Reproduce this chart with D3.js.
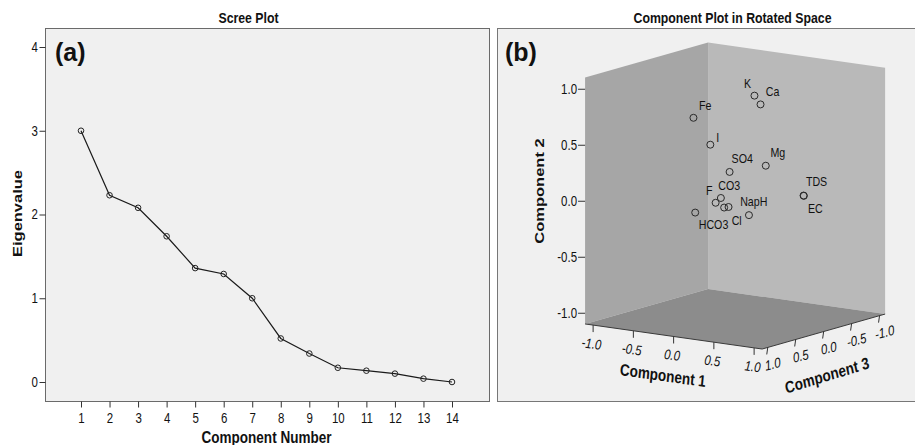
<!DOCTYPE html>
<html>
<head>
<meta charset="utf-8">
<script src="https://cdn.jsdelivr.net/npm/d3@7"></script>
<style>
  body { margin: 0; background: #fff; }
  svg { display: block; font-family: "Liberation Sans", Arial, sans-serif; }
  text { fill: #111; }
</style>
</head>
<body>
<div id="chart"></div>
<script>
// scree plot values
const components = [1, 2, 3, 4, 5, 6, 7, 8, 9, 10, 11, 12, 13, 14];
const eigenvalues = [3.00, 2.23, 2.08, 1.74, 1.36, 1.29, 1.00, 0.52, 0.34, 0.17, 0.135, 0.10, 0.04, 0.00];
const eigenTicks = [0, 1, 2, 3, 4];

// rotated component loadings (3d)
const variables = ["K", "Ca", "Fe", "I", "SO4", "Mg", "TDS", "EC", "CO3", "F", "Na", "pH", "Cl", "HCO3"];
const comp1 = [0.31, 0.42, -0.17, -0.03, 0.14, 0.52, 0.92, 0.93, 0.24, 0.14, 0.35, 0.37, 0.45, 0.06];
const comp2 = [0.94, 0.88, 0.75, 0.51, 0.27, 0.35, 0.11, 0.11, 0.09, 0.03, 0.03, 0.03, -0.07, -0.03];
const comp3 = [0.10, 0.15, 0.50, 0.40, 0.30, 0.20, 0.10, 0.11, 0.60, 0.55, 0.70, 0.65, 0.40, 0.80];
const loadTicks = [-1, -0.5, 0, 0.5, 1];

// label placement next to each marker (layout only)
const labelOffset = {
  K: [-7, -12, "middle"], Ca: [12, -12.7, "middle"], Fe: [11.7, -12.6, "middle"],
  I: [7.3, -7, "middle"], SO4: [12.6, -13.7, "middle"], Mg: [12, -13.4, "middle"],
  TDS: [13, -14.3, "middle"], EC: [11.5, 12.5, "middle"], CO3: [8.3, -12.7, "middle"],
  F: [-6.4, -12.3, "middle"], Na: [16, -5.6, "start"], pH: [25.2, -5, "start"],
  Cl: [-12.3, 5.3, "middle"], HCO3: [18.3, 12, "middle"]
};

const W = 915, H = 445;
const K = 0.82; // horizontal squeeze of the lettering
const fmt = d => d.toFixed(1);

const svg = d3.select("#chart").append("svg").attr("width", W).attr("height", H);

function rot(theta) {
  return Math.atan(K * Math.tan(theta * Math.PI / 180)) * 180 / Math.PI;
}

function txt(g, x, y, s, o = {}) {
  const k = o.k === undefined ? K : o.k;
  return g.append("text")
    .attr("transform", `translate(${x},${y}) scale(${k},1) rotate(${o.rot || 0})`)
    .attr("text-anchor", o.anchor || "middle")
    .attr("dominant-baseline", o.base || "central")
    .style("font-size", (o.size || 13) + "px")
    .style("font-weight", o.bold ? "bold" : "normal")
    .style("font-style", o.italic ? "italic" : "normal")
    .text(s);
}

// ---------- (a) scree plot ----------
const A = {x0: 45, x1: 489, y0: 28, y1: 401};
const ga = svg.append("g");

ga.append("rect")
  .attr("x", A.x0 + 0.5).attr("y", A.y0 + 0.5)
  .attr("width", A.x1 - A.x0).attr("height", A.y1 - A.y0)
  .attr("fill", "#f0f0f0").attr("stroke", "#6a6a6a");

const x = d3.scaleLinear().domain([1, 14]).range([81, 452]);
const y = d3.scaleLinear().domain([0, 4]).range([382, 47]);

ga.append("g")
  .attr("transform", `translate(0,${A.y1 + 0.5})`)
  .call(d3.axisBottom(x).tickValues(components).tickSize(6).tickPadding(6).tickFormat(d3.format("d")))
  .call(g => g.select(".domain").remove())
  .call(g => g.selectAll("line").attr("stroke", "#333"))
  .call(g => g.selectAll("text")
    .attr("font-size", 14).attr("font-family", null)
    .attr("transform", `scale(${K},1)`).attr("x", 0));

ga.append("g")
  .attr("transform", `translate(${A.x0 + 0.5},0)`)
  .call(d3.axisLeft(y).tickValues(eigenTicks).tickSize(6).tickPadding(1.5).tickFormat(d3.format("d")))
  .call(g => g.select(".domain").remove())
  .call(g => g.selectAll("line").attr("stroke", "#333"))
  .call(g => g.selectAll("text")
    .attr("font-size", 14).attr("font-family", null)
    .attr("transform", `scale(${K},1)`).attr("x", -7.5 / K));

const scree = components.map((c, i) => ({c: c, v: eigenvalues[i]}));

ga.append("path")
  .datum(scree)
  .attr("fill", "none")
  .attr("stroke", "#1a1a1a")
  .attr("stroke-width", 1.2)
  .attr("d", d3.line().x(d => x(d.c)).y(d => y(d.v)));

ga.append("g")
  .selectAll("circle")
  .data(scree)
  .join("circle")
  .attr("cx", d => x(d.c))
  .attr("cy", d => y(d.v))
  .attr("r", 2.8)
  .attr("fill", "none")
  .attr("stroke", "#222")
  .attr("stroke-width", 1);

txt(svg, 248.5, 18, "Scree Plot", {size: 15, bold: true});
txt(svg, 266.5, 437, "Component Number", {size: 16.5, bold: true});
txt(svg, 17, 213.5, "Eigenvalue", {size: 16.5, bold: true, rot: -90});
txt(svg, 55, 60.5, "(a)", {size: 25, bold: true, k: 1, anchor: "start", base: "alphabetic"});

// ---------- (b) component plot in rotated space ----------
const B = {x0: 497, y0: 28, y1: 401};
const gb = svg.append("g");

gb.append("rect")
  .attr("x", B.x0 + 0.5).attr("y", B.y0 + 0.5)
  .attr("width", W - B.x0 + 10).attr("height", B.y1 - B.y0)
  .attr("fill", "#f0f0f0").attr("stroke", "#777");

const ext = 1.1;
const O = {x: 735.1, y: 195.8};
const c1x = d3.scaleLinear().domain([-1, 1]).range([-80.5, 80.5]);
const c1y = d3.scaleLinear().domain([-1, 1]).range([-11.4, 11.4]);
const c2y = d3.scaleLinear().domain([-1, 1]).range([112, -112]);
const c3x = d3.scaleLinear().domain([-1, 1]).range([55.9, -55.9]);
const c3y = d3.scaleLinear().domain([-1, 1]).range([-15.9, 15.9]);

function proj(a, b, c) {
  return [O.x + c1x(a) + c3x(c), O.y + c1y(a) + c2y(b) + c3y(c)];
}

const poly = d3.line();
const walls = [
  {fill: "#a6a6a6", pts: [[-ext, -ext, ext], [-ext, ext, ext], [-ext, ext, -ext], [-ext, -ext, -ext]]},
  {fill: "#b9b9b9", pts: [[-ext, -ext, -ext], [-ext, ext, -ext], [ext, ext, -ext], [ext, -ext, -ext]]},
  {fill: "#8c8c8c", pts: [[-ext, -ext, ext], [-ext, -ext, -ext], [ext, -ext, -ext], [ext, -ext, ext]]}
];
gb.selectAll("path.wall")
  .data(walls)
  .join("path")
  .attr("class", "wall")
  .attr("fill", d => d.fill)
  .attr("d", d => poly(d.pts.map(p => proj(p[0], p[1], p[2]))) + "Z");

// floor front edges (component 1 and component 3 axes)
gb.append("path")
  .attr("fill", "none").attr("stroke", "#3a3a3a").attr("stroke-width", 1)
  .attr("d", poly([proj(-ext, -ext, ext), proj(ext, -ext, ext), proj(ext, -ext, -ext)]));

// component 2 axis on the left wall edge
const y2 = d3.scaleLinear().domain([-ext, ext])
  .range([proj(-ext, -ext, ext)[1], proj(-ext, ext, ext)[1]]);
gb.append("g")
  .attr("transform", `translate(${proj(-ext, 0, ext)[0]},0)`)
  .call(d3.axisLeft(y2).tickValues(loadTicks).tickFormat(fmt).tickSize(7).tickPadding(1))
  .call(g => g.select(".domain").remove())
  .call(g => g.selectAll("line").attr("stroke", "#333"))
  .call(g => g.selectAll("text")
    .attr("font-size", 14).attr("font-family", null)
    .attr("transform", `scale(${K},1)`).attr("x", -8 / K));

const ticks1 = gb.append("g");
loadTicks.forEach(v => {
  const p = proj(v, -ext, ext);
  ticks1.append("line")
    .attr("x1", p[0]).attr("y1", p[1]).attr("x2", p[0]).attr("y2", p[1] + 7)
    .attr("stroke", "#333");
  txt(ticks1, p[0] - 1.5, p[1] + 18.5, fmt(v), {size: 14, italic: true, rot: rot(8)});
});

const ticks3 = gb.append("g");
loadTicks.forEach(v => {
  const p = proj(ext, -ext, v);
  ticks3.append("line")
    .attr("x1", p[0]).attr("y1", p[1]).attr("x2", p[0] - 1).attr("y2", p[1] + 7)
    .attr("stroke", "#333");
  txt(ticks3, p[0] + 5, p[1] + 16.5, fmt(v), {size: 14, italic: true, rot: rot(-14)});
});

const loads = variables.map((n, i) => ({name: n, p: proj(comp1[i], comp2[i], comp3[i])}));

gb.append("g")
  .selectAll("circle")
  .data(loads)
  .join("circle")
  .attr("cx", d => d.p[0])
  .attr("cy", d => d.p[1])
  .attr("r", 3.5)
  .attr("fill", "none")
  .attr("stroke", "#2a2a2a")
  .attr("stroke-width", 1);

const lab = gb.append("g");
loads.forEach(d => {
  const o = labelOffset[d.name];
  txt(lab, d.p[0] + o[0], d.p[1] + o[1], d.name, {size: 13, anchor: o[2]});
});

txt(svg, 732.5, 18, "Component Plot in Rotated Space", {size: 15, bold: true});
txt(svg, 539, 191, "Component 2", {size: 16.5, bold: true, rot: -90});
txt(svg, 663, 375, "Component 1", {size: 16.5, bold: true, rot: rot(8)});
txt(svg, 827, 375, "Component 3", {size: 16.5, bold: true, rot: rot(-17)});
txt(svg, 505, 60.5, "(b)", {size: 25, bold: true, k: 1, anchor: "start", base: "alphabetic"});
</script>
</body>
</html>
